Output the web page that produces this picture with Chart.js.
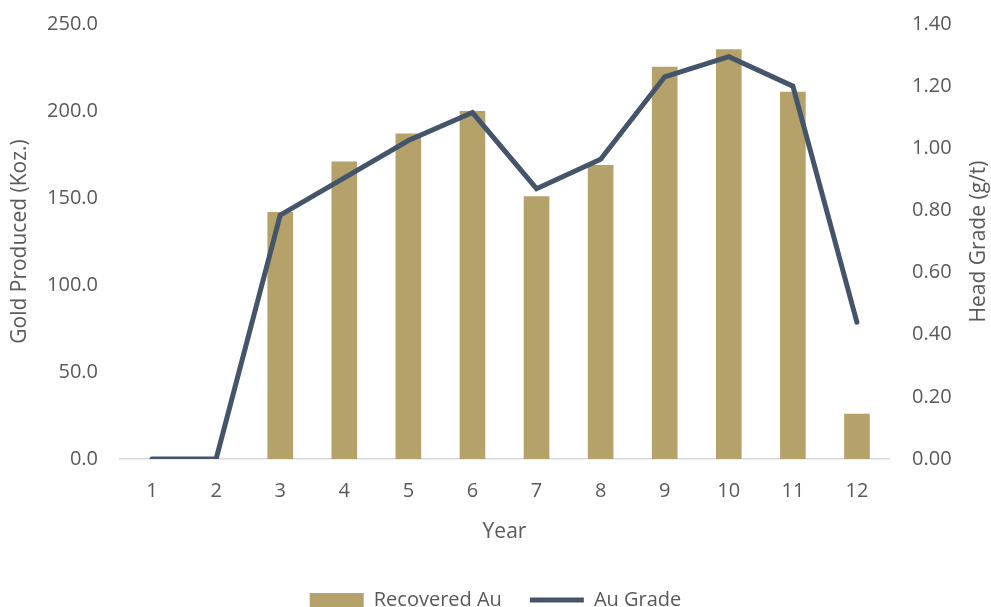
<!DOCTYPE html>
<html>
<head>
<meta charset="utf-8">
<script src="https://cdn.jsdelivr.net/npm/chart.js@4/dist/chart.umd.min.js"></script>
<style>
    html, body { margin: 0; padding: 0; background: #ffffff; overflow: hidden; }
    #wrap { position: relative; width: 991px; height: 620px; }
</style>
</head>
<body>
<div id="wrap"><canvas id="goldChart"></canvas></div>
<script>
// Production schedule by year
const years = ['1', '2', '3', '4', '5', '6', '7', '8', '9', '10', '11', '12'];
const recoveredAu = [0, 0, 142, 171, 187, 200, 151, 169, 225.5, 235.5, 211, 26];   // Koz.
const auGrade = [0, 0, 0.785, 0.905, 1.025, 1.115, 0.87, 0.965, 1.23, 1.295, 1.20, 0.44]; // g/t

const goldTicks = [0, 50, 100, 150, 200, 250];
const gradeTicks = [0, 0.2, 0.4, 0.6, 0.8, 1.0, 1.2, 1.4];

const textColor = '#595959';
const fontFamily = "'Open Sans', 'Noto Sans', sans-serif";
const gradeTitle = 'Head Grade (g/t)';

// Right axis title, written bottom-to-top like the left one
const rightTitle = {
    id: 'rightTitle',
    afterDraw(chart) {
        const { ctx, chartArea } = chart;
        ctx.save();
        ctx.translate(979, (chartArea.top + chartArea.bottom) / 2);
        ctx.rotate(-Math.PI / 2);
        ctx.fillStyle = textColor;
        ctx.font = `21px ${fontFamily}`;
        ctx.textAlign = 'center';
        ctx.textBaseline = 'middle';
        ctx.fillText(gradeTitle, 0, 0);
        ctx.restore();
    }
};

// fixed axis widths; the top tick label may hang above the plot
function fitSide(width) {
    return (scale) => {
        scale.width = width;
        scale.paddingTop = 0;
        scale.paddingBottom = 0;
    };
}

const ctx = document.getElementById('goldChart');

new Chart(ctx, {
    type: 'bar',
    data: {
        labels: years,
        datasets: [
            {
                label: 'Recovered Au',
                data: recoveredAu,
                backgroundColor: '#b5a16a',
                borderWidth: 0,
                categoryPercentage: 1,
                barPercentage: 0.4,
                pointStyle: 'rect',
                yAxisID: 'y',
                order: 1
            },
            {
                type: 'line',
                label: 'Au Grade',
                data: auGrade,
                borderColor: '#44546a',
                backgroundColor: '#44546a',
                borderWidth: 5,
                borderCapStyle: 'round',
                borderJoinStyle: 'miter',
                tension: 0,
                pointRadius: 0,
                pointStyle: 'line',
                yAxisID: 'y1',
                order: 0
            }
        ]
    },
    plugins: [rightTitle],
    options: {
        responsive: true,
        maintainAspectRatio: false,
        animation: false,
        layout: {
            padding: { top: 24, left: 0, right: 0, bottom: 0 }
        },
        plugins: {
            tooltip: { enabled: false },
            legend: {
                position: 'bottom',
                labels: {
                    usePointStyle: true,
                    pointStyleWidth: 54,
                    boxHeight: 14,
                    padding: 28,
                    color: textColor,
                    font: { family: fontFamily, size: 20 },
                    sort: (a, b) => a.datasetIndex - b.datasetIndex
                }
            }
        },
        scales: {
            x: {
                grid: { display: false, drawTicks: false },
                border: { display: true, color: '#d9d9d9', width: 1.5 },
                ticks: {
                    padding: 20,
                    color: textColor,
                    font: { family: fontFamily, size: 20 }
                },
                title: {
                    display: true,
                    text: 'Year',
                    color: textColor,
                    font: { family: fontFamily, size: 21, lineHeight: 1 },
                    padding: { top: 0, bottom: 19 }
                },
                afterFit: (scale) => { scale.height = 103; }
            },
            y: {
                position: 'left',
                min: 0,
                max: 250,
                grid: { display: false, drawTicks: false },
                border: { display: false },
                afterBuildTicks: (scale) => {
                    scale.ticks = goldTicks.map(v => ({ value: v }));
                },
                ticks: {
                    padding: 22,
                    color: textColor,
                    font: { family: fontFamily, size: 20 },
                    callback: (value) => value.toFixed(1)
                },
                title: {
                    display: true,
                    text: 'Gold Produced (Koz.)',
                    color: textColor,
                    font: { family: fontFamily, size: 21, lineHeight: 1 },
                    padding: { top: 10, bottom: 0 }
                },
                afterFit: fitSide(120)
            },
            y1: {
                position: 'right',
                min: 0,
                max: 1.4,
                grid: { display: false, drawTicks: false },
                border: { display: false },
                afterBuildTicks: (scale) => {
                    scale.ticks = gradeTicks.map(v => ({ value: v }));
                },
                ticks: {
                    padding: 23,
                    color: textColor,
                    font: { family: fontFamily, size: 20 },
                    callback: (value) => value.toFixed(2)
                },
                afterFit: fitSide(102)
            }
        }
    }
});
</script>
</body>
</html>
